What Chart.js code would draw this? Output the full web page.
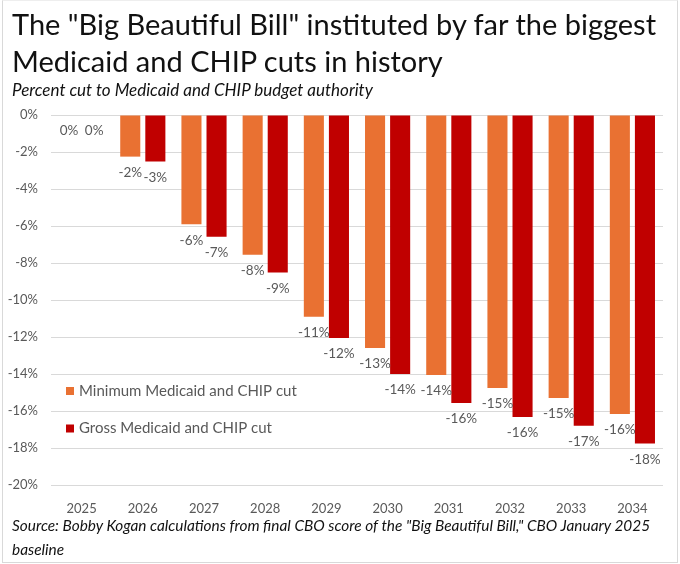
<!DOCTYPE html>
<html>
<head>
<meta charset="utf-8">
<script src="https://cdn.jsdelivr.net/npm/chart.js@4.4.1/dist/chart.umd.min.js"></script>
<style>
  html, body { margin: 0; padding: 0; background: #fff; }
  #frame {
    position: absolute; left: 2px; top: 0; width: 674px; height: 561px;
    border: 1px solid #d9d9d9; border-top-color: #eee;
  }
  #wrap { position: absolute; left: 0; top: 0; width: 680px; height: 564px; }
  #wrap canvas { position: absolute; left: 0; top: 0; }
  .title {
    position: absolute; left: 12px; top: 5px; width: 668px; white-space: nowrap;
    font-family: Lato, sans-serif; font-size: 29px; line-height: 37px; color: #111;
  }
  .subtitle {
    position: absolute; left: 12px; top: 79px; white-space: nowrap;
    font-family: Lato, sans-serif; font-style: italic; font-size: 17px; color: #111;
  }
  .source {
    position: absolute; left: 12px; top: 513px; width: 664px;
    font-family: Lato, sans-serif; font-style: italic; font-size: 15.4px; line-height: 24px; color: #111;
  }
</style>
</head>
<body>
<div id="frame"></div>
<div id="wrap">
  <canvas id="cutsChart" width="680" height="564"></canvas>
</div>
<div class="title">The "Big Beautiful Bill" instituted by far the biggest<br>Medicaid and CHIP cuts in history</div>
<div class="subtitle">Percent cut to Medicaid and CHIP budget authority</div>
<div class="source">Source: Bobby Kogan calculations from final CBO score of the "Big Beautiful Bill," CBO January 2025 baseline</div>

<script>
// Chart data (percent cut, negative = cut)
const years = ['2025', '2026', '2027', '2028', '2029', '2030', '2031', '2032', '2033', '2034'];
const minimumCut = [0, -2.25, -5.9, -7.55, -10.9, -12.6, -14.05, -14.76, -15.3, -16.16];
const grossCut = [0, -2.52, -6.58, -8.52, -12.05, -14.0, -15.57, -16.32, -16.8, -17.75];
const seriesNames = ['Minimum Medicaid and CHIP cut', 'Gross Medicaid and CHIP cut'];
const seriesColors = ['#E97132', '#C00000'];

const labelFont = '13.5px Lato, sans-serif';
const greyText = '#595959';

// value labels under each bar end
const barLabels = {
    id: 'barLabels',
    afterDatasetsDraw(chart) {
        const ctx = chart.ctx;
        ctx.save();
        ctx.font = labelFont;
        ctx.fillStyle = greyText;
        ctx.textAlign = 'center';
        ctx.textBaseline = 'middle';
        chart.data.datasets.forEach((ds, i) => {
            chart.getDatasetMeta(i).data.forEach((bar, j) => {
                const v = Math.round(Math.abs(ds.data[j]));
                const txt = (v === 0 ? '0' : '-' + v) + '%';
                ctx.fillText(txt, bar.x, bar.y + 16);
            });
        });
        ctx.restore();
    }
};

// legend sits inside the plot, lower left
const innerLegend = {
    id: 'innerLegend',
    afterDraw(chart) {
        const ctx = chart.ctx;
        const area = chart.chartArea;
        ctx.save();
        ctx.font = '15px Lato, sans-serif';
        ctx.textBaseline = 'middle';
        chart.data.datasets.forEach((ds, i) => {
            const y = area.top + 276 + i * 37.5;
            ctx.fillStyle = ds.backgroundColor;
            ctx.fillRect(area.left + 15, y - 4, 8, 8);
            ctx.fillStyle = greyText;
            ctx.fillText(ds.label, area.left + 28, y);
        });
        ctx.restore();
    }
};

new Chart(document.getElementById('cutsChart').getContext('2d'), {
    type: 'bar',
    data: {
        labels: years,
        datasets: [{
            label: seriesNames[0],
            data: minimumCut,
            backgroundColor: seriesColors[0],
            categoryPercentage: 0.82,
            barPercentage: 0.8
        }, {
            label: seriesNames[1],
            data: grossCut,
            backgroundColor: seriesColors[1],
            categoryPercentage: 0.82,
            barPercentage: 0.8
        }]
    },
    options: {
        responsive: false,
        animation: false,
        layout: { padding: { top: 115, right: 17, bottom: 0, left: 0 } },
        plugins: {
            legend: { display: false },
            title: { display: false },
            tooltip: { enabled: false }
        },
        scales: {
            x: {
                grid: { display: false },
                border: { display: false },
                ticks: { color: greyText, font: { family: 'Lato', size: 13 }, padding: 8 },
                afterFit: s => { s.height = 79; }
            },
            y: {
                min: -20,
                max: 0,
                grid: { color: '#d9d9d9', lineWidth: 1, drawTicks: false },
                border: { display: false },
                ticks: {
                    stepSize: 2,
                    color: greyText,
                    font: { family: 'Lato', size: 13 },
                    padding: 13,
                    callback: v => v + '%'
                },
                afterFit: s => { s.width = 51; }
            }
        }
    },
    plugins: [barLabels, innerLegend]
});
</script>
</body>
</html>
